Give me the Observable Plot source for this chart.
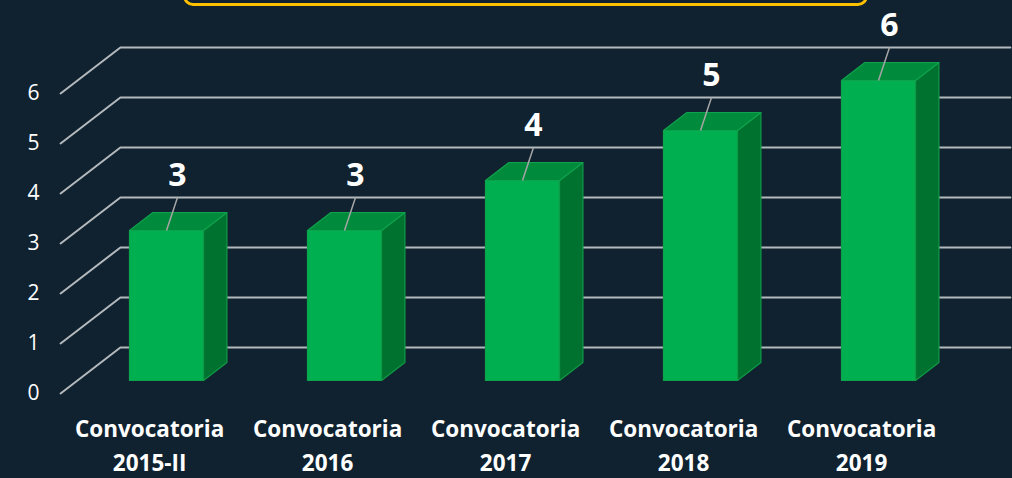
<!DOCTYPE html>
<html>
<head>
<meta charset="utf-8">
<script src="https://cdn.jsdelivr.net/npm/d3@7"></script>
<script src="https://cdn.jsdelivr.net/npm/@observablehq/plot@0.6"></script>
<style>
  html, body { margin: 0; padding: 0; background: #10222f; width: 1012px; height: 478px; overflow: hidden; }
  #wrap { position: relative; width: 1012px; height: 478px; }
  #banner { position: absolute; left: 183px; top: -30px; width: 685px; height: 36px;
            border: 3px solid #FFC000; border-radius: 10px; box-sizing: border-box; }
  #chart { position: absolute; left: 0; top: 0; }
</style>
</head>
<body>
<div id="wrap"><div id="chart"></div><div id="banner"></div></div>
<script>
const categories = ["Convocatoria\n2015-II", "Convocatoria\n2016", "Convocatoria\n2017", "Convocatoria\n2018", "Convocatoria\n2019"];
const values = [3, 3, 4, 5, 6];
const yTicks = [0, 1, 2, 3, 4, 5, 6];

// oblique 3D projection helpers (depth d measured in pixels of vertical shift)
const KX = 1.3 / 178, KY = 1 / 50;
const P = (x, y, d) => ({x: x + d * KX, y: y + d * KY});
const HW = 0.208, FLOOR = -13, BACK = 18, WALL = 33;

const gridPts = yTicks.flatMap(t => [
  {id: t, ...P(-0.5, t, FLOOR)},
  {id: t, ...P(-0.5, t, WALL)},
  {id: t, ...P(4.5, t, WALL)}
]);

const frontFaces = values.flatMap((v, i) => [
  {id: i, ...P(i - HW, 0, 0)}, {id: i, ...P(i + HW, 0, 0)},
  {id: i, ...P(i + HW, v, 0)}, {id: i, ...P(i - HW, v, 0)}
]);
const sideFaces = values.flatMap((v, i) => [
  {id: i, ...P(i + HW, 0, 0)}, {id: i, ...P(i + HW, 0, BACK)},
  {id: i, ...P(i + HW, v, BACK)}, {id: i, ...P(i + HW, v, 0)}
]);
const topFaces = values.flatMap((v, i) => [
  {id: i, ...P(i - HW, v, 0)}, {id: i, ...P(i + HW, v, 0)},
  {id: i, ...P(i + HW, v, BACK)}, {id: i, ...P(i - HW, v, BACK)}
]);

const bars = values.map((v, i) => ({i, v, cat: categories[i]}));

const chart = Plot.plot({
  width: 1012,
  height: 478,
  margin: 0,
  style: {background: "transparent", color: "white", fontFamily: "'Open Sans', sans-serif"},
  x: {domain: [-0.5, 4.5], range: [77, 967], axis: null},
  y: {domain: [0, 6], range: [380, 80], axis: null},
  marks: [
    Plot.line(gridPts, {x: "x", y: "y", z: "id", stroke: "#b4b9bd", strokeWidth: 2}),
    Plot.text(yTicks, {x: () => P(-0.5, 0, FLOOR).x, y: t => P(0, t, FLOOR).y, text: d => String(d),
      textAnchor: "end", dx: -21, fill: "white", fontSize: 21}),
    Plot.line(frontFaces, {x: "x", y: "y", z: "id", curve: "linear-closed", fill: "#00B050", stroke: "#0fa24c", strokeWidth: 1.2}),
    Plot.line(sideFaces, {x: "x", y: "y", z: "id", curve: "linear-closed", fill: "#00722f", stroke: "#0f9a46", strokeWidth: 1.2}),
    Plot.line(topFaces, {x: "x", y: "y", z: "id", curve: "linear-closed", fill: "#008a3b", stroke: "#0fa24c", strokeWidth: 1.2}),
    Plot.link(bars, {x1: "i", y1: "v", x2: d => d.i + 11 / 178, y2: d => d.v + 33 / 50, stroke: "#a6a6a6", strokeWidth: 1.5}),
    Plot.text(bars, {x: "i", y: "v", text: d => String(d.v), dx: 11, dy: -55, fill: "white",
      fontSize: 32, fontWeight: "bold"}),
    Plot.text(bars, {x: d => P(d.i, 0, FLOOR).x, y: () => P(0, 0, FLOOR).y, text: "cat", dy: 50,
      lineAnchor: "middle", lineHeight: 1.5, fill: "white", fontSize: 22.5, fontWeight: "bold"})
  ]
});
document.getElementById("chart").appendChild(chart);
</script>
</body>
</html>
